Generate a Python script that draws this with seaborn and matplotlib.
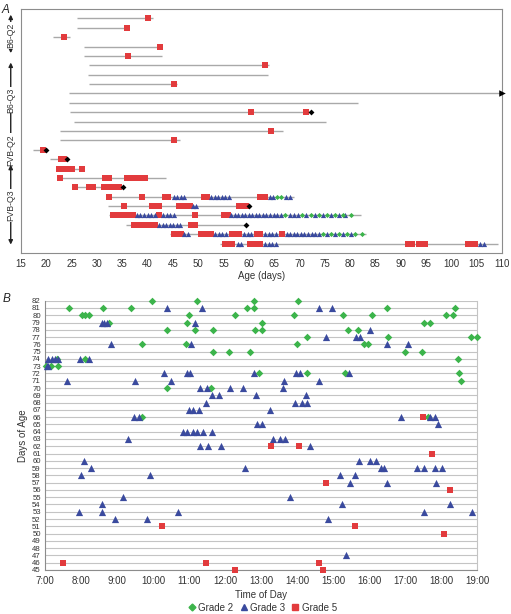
import matplotlib
matplotlib.use("Agg")
import matplotlib.pyplot as plt
import matplotlib.transforms as mtransforms
from matplotlib.lines import Line2D
import pandas as pd
import seaborn as sns

# ---------------- Panel A: one row per mouse (top to bottom) ----------------
row_start = [26.0, 26.0, 21.3, 27.5, 27.5, 28.4, 28.2, 28.4, 24.4, 24.5, 24.6, 25.4, 22.8,
             22.8, 17.4, 20.7, 22.0, 22.2, 25.0, 31.8, 32.1, 32.4, 35.7, 44.5, 54.4]
row_end = [41.1, 36.4, 24.6, 42.9, 42.8, 64.0, 63.8, 45.8, 110.0, 81.6, 72.3, 75.3, 66.7,
           46.4, 19.9, 24.0, 27.5, 43.6, 35.1, 68.9, 60.1, 82.1, 59.4, 83.1, 109.3]

a_grade5 = [
    [40.1], [35.9], [23.5], [42.5], [36.2], [63.2], [], [45.3], [], [], [60.5, 71.4], [],
    [64.4], [45.3], [19.4], [22.9, 23.4],
    [22.6, 23.2, 23.8, 24.4, 25.1, 27.1],
    [22.7, 31.6, 32.4, 36.0, 36.7, 37.4, 38.1, 38.8, 39.5],
    [25.6, 28.5, 29.3, 31.3, 32.0, 32.5, 33.6, 34.4],
    [32.4, 39.0, 43.4, 44.1, 51.2, 51.8, 62.3, 62.9, 63.3],
    [35.4, 40.9, 41.6, 42.3, 46.2, 46.9, 47.6, 48.3, 58.1, 58.8, 59.4],
    [33.1, 34.4, 35.1, 35.8, 36.5, 37.2, 42.2, 49.4, 55.2, 55.8],
    [37.4, 38.1, 38.8, 39.5, 40.2, 40.9, 41.5, 48.5, 49.3],
    [45.3, 46.0, 46.6, 50.5, 51.2, 51.9, 52.6, 56.7, 57.4, 58.1, 61.6, 62.3, 66.5],
    [55.3, 56.0, 56.7, 60.2, 60.9, 61.6, 62.3, 91.5, 92.3, 93.6, 94.8, 103.3, 104.0, 104.6],
]
a_grade3 = [[]] * 19 + [
    [45.2, 45.9, 46.6, 47.3, 52.6, 53.3, 54.0, 54.7, 55.4, 56.1, 64.2, 64.8, 67.4, 68.1],
    [48.9, 49.6],
    [37.9, 38.6, 39.3, 40.0, 40.7, 41.4, 43.1, 43.8, 44.5, 45.2, 56.5, 57.2, 57.9, 58.6,
     59.3, 60.0, 60.7, 61.4, 62.1, 62.8, 63.5, 64.2, 64.9, 65.6, 66.3, 68.2, 69.0, 69.8,
     71.4, 73.0, 74.6, 76.2, 77.8, 79.0],
    [42.3, 43.0, 43.7, 44.4, 45.1, 45.8, 46.4],
    [47.2, 47.9, 53.4, 54.1, 54.8, 55.5, 59.1, 59.8, 60.5, 63.2, 63.9, 64.6, 65.3, 67.5,
     68.2, 68.9, 69.6, 70.3, 71.0, 71.7, 72.4, 73.1, 73.8, 75.4, 77.0, 78.6, 80.2],
    [57.9, 58.4, 63.2, 63.9, 64.6, 65.3, 105.6, 106.5],
]
a_grade2 = [[]] * 19 + [
    [65.5, 66.4], [],
    [67.1, 70.6, 72.2, 73.8, 75.4, 77.0, 78.6, 80.2], [],
    [74.6, 76.2, 77.8, 79.4, 81.0, 82.4], [],
]
death_row = [11, 15, 16, 19, 21, 23]
death_age = [72.3, 19.9, 24.0, 35.1, 60.1, 59.4]
alive_row = [9]
alive_age = [110.0]

group_names = ["B6-Q2", "B6-Q3", "FVB-Q2", "FVB-Q3"]
group_spans = [(0.6, 4.7), (5.7, 14.0), (14.6, 16.1), (16.6, 25.1)]
group_text_pos = [2.8, 9.7, 15.0, 20.9]

# ---------------- Panel B: onset time of day per age (decimal hours) ----------------
b_grade2 = {
    82: [9.96, 11.21, 12.81, 14.02],
    81: [7.67, 8.62, 9.38, 12.6, 12.81, 16.49, 18.38],
    80: [8.04, 8.11, 8.23, 11.01, 12.28, 13.92, 15.29, 16.08, 18.13, 18.33],
    79: [8.78, 10.95, 13.04, 17.54, 17.69],
    78: [10.39, 11.17, 11.68, 12.83, 13.03, 15.43, 15.69],
    77: [14.27, 16.54, 18.82, 18.99],
    76: [9.69, 10.91, 14.0, 15.87, 15.98],
    75: [11.66, 12.12, 12.69, 16.99, 17.48],
    74: [7.32, 8.11, 18.48],
    73: [7.02, 7.16, 7.35],
    72: [12.95, 14.29, 15.32, 18.49],
    71: [18.56],
    70: [10.39, 11.6],
    66: [9.69, 17.65],
}
b_grade3 = {
    81: [10.39, 11.36, 14.60, 14.98],
    79: [8.57, 8.65, 8.71, 11.17],
    78: [16.03],
    77: [14.81, 15.64, 15.75],
    76: [8.83, 11.06, 16.49, 17.08],
    74: [7.07, 7.19, 7.28, 7.37, 7.97, 8.23],
    73: [7.05, 7.09],
    72: [10.31, 10.94, 11.03, 12.81, 13.96, 14.07, 15.44],
    71: [7.61, 9.51, 10.51, 13.65, 14.60],
    70: [11.31, 11.49, 12.13, 12.51, 13.60],
    69: [11.64, 11.84, 12.87, 14.25],
    68: [11.48, 13.95, 14.15, 14.27],
    67: [11.01, 11.12, 11.28, 13.25],
    66: [9.48, 9.62, 16.90, 17.70, 17.83],
    65: [12.88, 13.04, 17.91],
    64: [10.84, 10.94, 11.12, 11.21, 11.38, 11.65],
    63: [9.31, 13.32, 13.54, 13.68],
    62: [11.31, 11.54, 11.88, 14.35],
    60: [8.09, 15.73, 16.03, 16.20],
    59: [8.28, 12.56, 16.32, 16.43, 17.34, 17.52, 17.83, 18.03],
    58: [8.01, 9.91, 15.19, 15.60],
    57: [15.46, 16.49, 17.86],
    55: [9.17, 13.81],
    54: [8.58, 15.26, 18.24],
    53: [7.94, 8.59, 10.69, 17.52, 18.85],
    52: [8.94, 9.83, 14.87],
    47: [15.35],
}
b_grade5 = {
    66: [17.51],
    62: [13.29, 14.06],
    61: [17.76],
    57: [14.81],
    56: [18.24],
    51: [10.24, 15.62],
    50: [18.09],
    46: [7.49, 11.48, 14.62],
    45: [12.29, 14.73],
}
hour_ticks = list(range(7, 20))
age_ticks = list(range(45, 83))

grades = ["Grade 2", "Grade 3", "Grade 5"]
colors = {"Grade 2": "#3cb44b", "Grade 3": "#3a4a9e", "Grade 5": "#e23b3d"}
markers = {"Grade 2": "D", "Grade 3": "^", "Grade 5": "s"}


def long_a(per_row, grade):
    recs = [(i + 1, a) for i, ages in enumerate(per_row) for a in ages]
    df = pd.DataFrame(recs, columns=["row", "age"])
    df["grade"] = grade
    return df


def long_b(per_age, grade):
    recs = [(t, age) for age, times in per_age.items() for t in times]
    df = pd.DataFrame(recs, columns=["time", "age"])
    df["grade"] = grade
    return df


sns.set_style("white")
plt.rcParams["font.family"] = ["Liberation Sans", "DejaVu Sans"]

fig = plt.figure(figsize=(5.11, 6.14), dpi=100)

# ---------------- draw panel A ----------------
axA = fig.add_axes([0.0411, 0.5879, 0.941, 0.3974])
rows = list(range(1, len(row_start) + 1))
axA.hlines(rows, row_start, row_end, color="#a9a9a9", lw=1.0, zorder=1)

dfA = {"Grade 5": long_a(a_grade5, "Grade 5"),
       "Grade 3": long_a(a_grade3, "Grade 3"),
       "Grade 2": long_a(a_grade2, "Grade 2")}
sizesA = {"Grade 5": 14, "Grade 3": 14, "Grade 2": 7}
for g in ["Grade 5", "Grade 3", "Grade 2"]:
    sns.scatterplot(data=dfA[g], x="age", y="row", marker=markers[g], color=colors[g],
                    s=sizesA[g], linewidth=0, ax=axA, zorder=3, legend=False)
sns.scatterplot(x=death_age, y=death_row, marker="D", color="black", s=9, linewidth=0,
                ax=axA, zorder=4, legend=False)
sns.scatterplot(x=alive_age, y=alive_row, marker=">", color="black", s=22, linewidth=0,
                ax=axA, zorder=4, legend=False, clip_on=False)

axA.set_xlim(15, 110)
axA.set_ylim(26, 0)
axA.set_xticks(range(15, 111, 5))
axA.set_yticks([])
axA.tick_params(axis="x", labelsize=7, length=2, color="#888888", pad=2, colors="#333333")
axA.set_xlabel("Age (days)", fontsize=7, labelpad=2, color="#333333")
axA.set_ylabel("")
for sp in axA.spines.values():
    sp.set_color("#8c8c8c")
    sp.set_linewidth(0.8)

trans = mtransforms.blended_transform_factory(fig.transFigure, axA.transData)
for name, (y0, y1), yt in zip(group_names, group_spans, group_text_pos):
    axA.annotate("", xy=(0.021, y1), xytext=(0.021, y0), xycoords=trans, textcoords=trans,
                 arrowprops=dict(arrowstyle="<|-|>", color="#222222", lw=1.0,
                                 mutation_scale=6, shrinkA=0, shrinkB=0),
                 annotation_clip=False)
    axA.text(0.021, yt, name, transform=trans, rotation=90, ha="center", va="center",
             fontsize=6.3, color="#333333",
             bbox=dict(facecolor="white", edgecolor="none", pad=0.5))

fig.text(0.004, 0.993, "A", fontsize=8.5, style="italic", va="top", ha="left")

# ---------------- draw panel B ----------------
axB = fig.add_axes([0.0881, 0.0717, 0.8454, 0.4386])
dfB = {"Grade 2": long_b(b_grade2, "Grade 2"),
       "Grade 3": long_b(b_grade3, "Grade 3"),
       "Grade 5": long_b(b_grade5, "Grade 5")}
sizesB = {"Grade 2": 15, "Grade 3": 27, "Grade 5": 17}
for g in grades:
    sns.scatterplot(data=dfB[g], x="time", y="age", marker=markers[g], color=colors[g],
                    s=sizesB[g], linewidth=0, ax=axB, zorder=3, legend=False, clip_on=False)

axB.set_xlim(7, 19)
axB.set_ylim(45, 82)
axB.set_xticks(hour_ticks)
axB.set_xticklabels([f"{h}:00" for h in hour_ticks])
axB.set_yticks(age_ticks)
axB.set_yticklabels([str(a) for a in age_ticks])
axB.yaxis.grid(True, color="#c4c4c4", lw=0.8)
axB.set_axisbelow(True)
axB.tick_params(axis="x", labelsize=7, length=2, color="#888888", pad=2, colors="#333333")
axB.tick_params(axis="y", labelsize=5.6, length=2, color="#888888", pad=1, colors="#333333")
axB.set_xlabel("Time of Day", fontsize=7, labelpad=3, color="#333333")
axB.set_ylabel("Days of Age", fontsize=7, labelpad=3, color="#333333")
axB.spines["top"].set_visible(False)
axB.spines["left"].set_color("#8c8c8c")
axB.spines["bottom"].set_color("#8c8c8c")
axB.spines["right"].set_color("#c4c4c4")
for sp in axB.spines.values():
    sp.set_linewidth(0.8)

handles = [Line2D([], [], ls="none", marker=markers[g], color=colors[g],
                  markersize={"Grade 2": 3.5, "Grade 3": 5, "Grade 5": 4.5}[g]) for g in grades]
fig.legend(handles, grades, loc="lower center", bbox_to_anchor=(0.513, -0.012), ncol=3,
           frameon=False, fontsize=7, handlelength=0.9, handletextpad=0.2,
           columnspacing=0.6, labelcolor="#333333")

fig.text(0.006, 0.523, "B", fontsize=8.5, style="italic", va="top", ha="left")

fig.savefig("out.png", dpi=100)
